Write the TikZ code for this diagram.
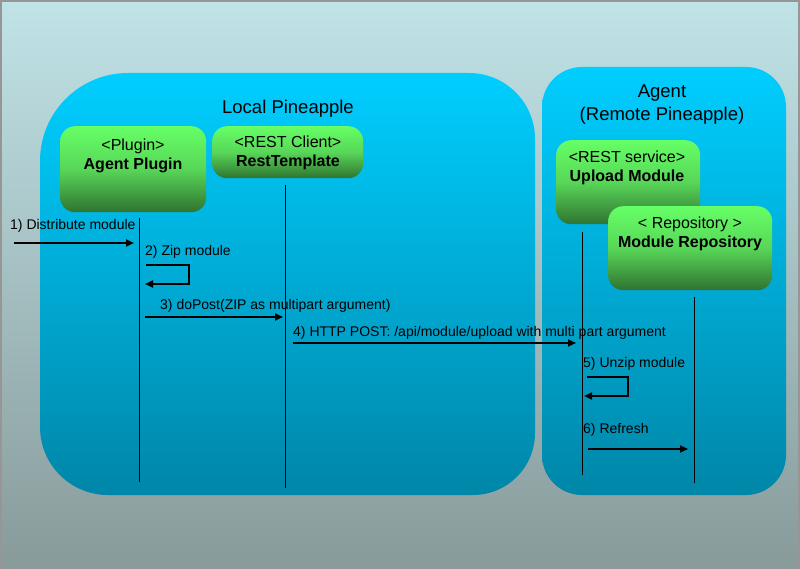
\documentclass[tikz,border=0pt]{standalone}
\usepackage{fontspec}
\setmainfont{Liberation Sans}
\usetikzlibrary{arrows.meta}
\definecolor{bgtop}{RGB}{192,227,231}
\definecolor{bgbot}{RGB}{136,154,154}
\definecolor{bltop}{RGB}{0,206,255}
\definecolor{blbot}{RGB}{0,134,168}
\definecolor{grtop}{RGB}{102,255,102}
\definecolor{grmid}{RGB}{88,214,88}
\definecolor{grbot}{RGB}{48,115,48}
\definecolor{framegrey}{RGB}{150,150,150}
\begin{document}
\begin{tikzpicture}[x=1pt,y=-1pt,
  region/.style={top color=bltop,bottom color=blbot,draw=none},
  comp/.style={rounded corners=15pt,top color=grtop,bottom color=grbot,middle color=grmid,draw=none,anchor=north west,inner sep=0pt},
  comptext/.style={align=center,inner sep=0pt,font=\fontsize{16}{19}\selectfont},
  title/.style={align=center,inner sep=0pt,font=\fontsize{18.5}{23}\selectfont},
  lbl/.style={anchor=west,inner sep=0pt,font=\fontsize{14}{16}\selectfont},
  lifeline/.style={draw=black,line width=1pt},
  msg/.style={draw=black,line width=2pt,-{Triangle[length=8pt,width=7pt]}}
]
\useasboundingbox (0,0) rectangle (800,569);
% background
\fill[top color=bgtop,bottom color=bgbot] (0,0) rectangle (800,569);
\draw[framegrey,line width=2pt] (1,1) rectangle (799,568);
% regions
\path[region] (40,161) arc[start angle=180,end angle=90,radius=88pt]
  -- (469,73) arc[start angle=90,end angle=0,radius=66pt]
  -- (535,433) arc[start angle=0,end angle=-90,radius=62pt]
  -- (108,495) arc[start angle=270,end angle=180,radius=68pt] -- cycle;
\path[region,rounded corners=40pt] (542,67) rectangle (786,495);
\node[title] (localtitle) at (288,109) {Local Pineapple};
\node[title] (agenttitle) at (662,105) {Agent\\(Remote Pineapple)};
% components
\node[comp,minimum width=146pt,minimum height=86pt] (plugin) at (60,126) {};
\node[comptext] (plugintxt) at (133,155.5) {<Plugin>\\\textbf{Agent Plugin}};
\node[comp,minimum width=151pt,minimum height=52pt] (rest) at (212,126) {};
\node[comptext] (resttxt) at (288,152.5) {<REST Client>\\\textbf{RestTemplate}};
\node[comp,minimum width=144pt,minimum height=84pt] (upload) at (556,140) {};
\node[comptext] (uploadtxt) at (627,168) {<REST service>\\\textbf{Upload Module}};
\node[comp,minimum width=164pt,minimum height=84pt] (repo) at (608,206) {};
\node[comptext] (repotxt) at (690,233.5) {< Repository >\\\textbf{Module Repository}};
% lifelines
\coordinate (l1t) at (139,218); \coordinate (l1b) at (139,482);
\coordinate (l2t) at (285,185); \coordinate (l2b) at (285,488);
\coordinate (l3t) at (582,232); \coordinate (l3b) at (582,475);
\coordinate (l4t) at (694,297); \coordinate (l4b) at (694,483);
\draw[lifeline] (l1t) -- (l1b);
\draw[lifeline] (l2t) -- (l2b);
\draw[lifeline] (l3t) -- (l3b);
\draw[lifeline] (l4t) -- (l4b);
% messages
\node[lbl] (t1) at (10,226) {1) Distribute module};
\coordinate (m1a) at (14,243); \coordinate (m1b) at (134,243);
\draw[msg] (m1a) -- (m1b);
\node[lbl] (t2) at (145,252) {2) Zip module};
\coordinate (z1) at (146,265); \coordinate (z2) at (189,265);
\coordinate (z3) at (189,284); \coordinate (z4) at (145,284);
\draw[msg] (z1) -- (z2) -- (z3) -- (z4);
\node[lbl] (t3) at (160,306) {3) doPost(ZIP as multipart argument)};
\coordinate (m3a) at (145,317); \coordinate (m3b) at (283,317);
\draw[msg] (m3a) -- (m3b);
\node[lbl] (t4) at (293,333) {4) HTTP POST: /api/module/upload with multi part argument};
\coordinate (m4a) at (293,343); \coordinate (m4b) at (576,343);
\draw[msg] (m4a) -- (m4b);
\node[lbl] (t5) at (583,364) {5) Unzip module};
\coordinate (u1) at (587,377); \coordinate (u2) at (628,377);
\coordinate (u3) at (628,396); \coordinate (u4) at (584,396);
\draw[msg] (u1) -- (u2) -- (u3) -- (u4);
\node[lbl] (t6) at (583,430) {6) Refresh};
\coordinate (m6a) at (588,449); \coordinate (m6b) at (688,449);
\draw[msg] (m6a) -- (m6b);
\end{tikzpicture}
\end{document}
